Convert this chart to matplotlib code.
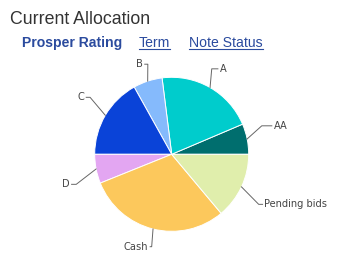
import numpy as np
import matplotlib
matplotlib.use("Agg")
import matplotlib.pyplot as plt

# slices, counter-clockwise from 3 o'clock
labels = ["AA", "A", "B", "C", "D", "Cash", "Pending bids"]
shares = [6.4, 20.6, 6.1, 16.9, 6.1, 30.0, 13.9]
colors = ["#006e6e", "#00cccc", "#85bafc", "#0a43d8", "#e3a6f2", "#fcc85c", "#e0eeac"]
tabs = ["Prosper Rating", "Term", "Note Status"]

# label elbow / end points (pie radius = 1)
elbows = [(1.17, 0.37), (0.52, 1.11), (-0.31, 1.17), (-1.06, 0.74),
          (-1.24, -0.39), (-0.26, -1.20), (1.13, -0.65)]
ends = [(1.30, 0.37), (0.60, 1.11), (-0.35, 1.17), (-1.11, 0.74),
        (-1.30, -0.39), (-0.28, -1.20), (1.18, -0.65)]

W, H = 338, 257
fig = plt.figure(figsize=(W / 100, H / 100), dpi=100)
fig.patch.set_facecolor("white")

cx, cy, r = 171.7, 154.3, 77
ax = fig.add_axes([(cx - r) / W, (H - cy - r) / H, 2 * r / W, 2 * r / H])

wedges, _ = ax.pie(shares, colors=colors, startangle=0, counterclock=True,
                   wedgeprops=dict(edgecolor="white", linewidth=0.7))
ax.set_xlim(-1, 1)
ax.set_ylim(-1, 1)
ax.axis("off")

for w, lab, (ex, ey), (tx, ty) in zip(wedges, labels, elbows, ends):
    mid = np.deg2rad((w.theta1 + w.theta2) / 2)
    px, py = np.cos(mid), np.sin(mid)
    ax.plot([px, ex, tx], [py, ey, ty], color="#666666", lw=0.7, clip_on=False)
    ha = "left" if tx > ex else "right"
    off = 0.025 if ha == "left" else -0.025
    ax.text(tx + off, ty, lab, ha=ha, va="center", fontsize=7.1,
            family="DejaVu Sans", color="#444444", clip_on=False)

fig.text(10 / W, 1 - 24 / H, "Current Allocation", fontsize=12.8,
         family="Liberation Sans", color="#333333", va="baseline")

tab_x = [22, 139, 189]
tab_color = "#2b4b9e"
fig.canvas.draw()
rend = fig.canvas.get_renderer()
for i, (t, x) in enumerate(zip(tabs, tab_x)):
    txt = fig.text(x / W, 1 - 47 / H, t, fontsize=10.1,
                   family="Liberation Sans", color=tab_color, va="baseline",
                   weight="bold" if i == 0 else "normal")
    if i > 0:
        bb = txt.get_window_extent(renderer=rend)
        yl = 1 - 49 / H
        fig.add_artist(plt.Line2D([bb.x0 / W, bb.x1 / W], [yl, yl],
                                  color=tab_color, lw=0.8,
                                  transform=fig.transFigure))

fig.savefig("out.png", dpi=100, facecolor="white")
